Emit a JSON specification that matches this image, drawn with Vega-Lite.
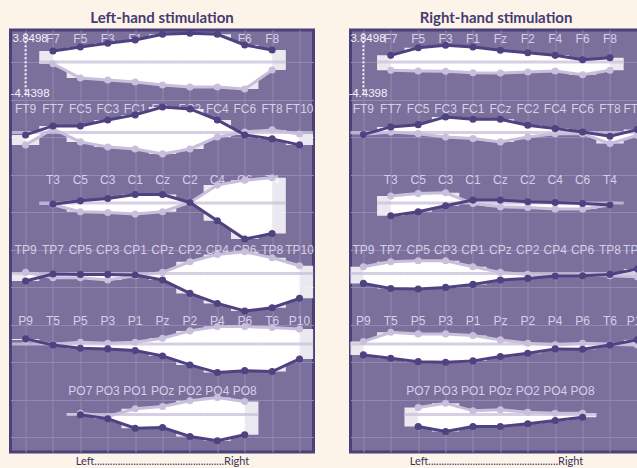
{
"$schema": "https://vega.github.io/schema/vega-lite/v6.json",
"background": "#fcf4e9",
"padding": {"left": 8.5, "top": 9, "right": 0, "bottom": 0},
"spacing": 31,
"datasets": {
"eeg": [
{"p":"L","e":"F7","row":0,"col":1,"a":1.47,"b":-0.23},
{"p":"L","e":"F5","row":0,"col":2,"a":2.0,"b":-2.13},
{"p":"L","e":"F3","row":0,"col":3,"a":2.5,"b":-2.4},
{"p":"L","e":"F1","row":0,"col":4,"a":2.93,"b":-2.67},
{"p":"L","e":"Fz","row":0,"col":5,"a":3.7,"b":-3.07},
{"p":"L","e":"F2","row":0,"col":6,"a":3.85,"b":-3.33},
{"p":"L","e":"F4","row":0,"col":7,"a":3.7,"b":-3.33},
{"p":"L","e":"F6","row":0,"col":8,"a":2.27,"b":-3.6},
{"p":"L","e":"F8","row":0,"col":9,"a":1.6,"b":-1.07},
{"p":"L","e":"FT9","row":1,"col":0,"a":-0.32,"b":-1.65},
{"p":"L","e":"FT7","row":1,"col":1,"a":0.88,"b":0.48},
{"p":"L","e":"FC5","row":1,"col":2,"a":0.88,"b":-1.25},
{"p":"L","e":"FC3","row":1,"col":3,"a":1.68,"b":-1.92},
{"p":"L","e":"FC1","row":1,"col":4,"a":2.35,"b":-2.19},
{"p":"L","e":"FCz","row":1,"col":5,"a":3.41,"b":-2.85},
{"p":"L","e":"FC2","row":1,"col":6,"a":3.15,"b":-2.19},
{"p":"L","e":"FC4","row":1,"col":7,"a":1.68,"b":-0.59},
{"p":"L","e":"FC6","row":1,"col":8,"a":-0.32,"b":0.08},
{"p":"L","e":"FT8","row":1,"col":9,"a":-0.85,"b":0.35},
{"p":"L","e":"FT10","row":1,"col":10,"a":-1.65,"b":-0.19},
{"p":"L","e":"T3","row":2,"col":1,"a":-0.15,"b":-0.24},
{"p":"L","e":"C5","row":2,"col":2,"a":0.29,"b":-1.17},
{"p":"L","e":"C3","row":2,"col":3,"a":0.6,"b":-1.27},
{"p":"L","e":"C1","row":2,"col":4,"a":1.13,"b":-1.48},
{"p":"L","e":"Cz","row":2,"col":5,"a":1.13,"b":-1.17},
{"p":"L","e":"C2","row":2,"col":6,"a":0.07,"b":0.07},
{"p":"L","e":"C4","row":2,"col":7,"a":-2.37,"b":2.39},
{"p":"L","e":"C6","row":2,"col":8,"a":-4.81,"b":3.05},
{"p":"L","e":"T4","row":2,"col":9,"a":-4.07,"b":3.36},
{"p":"L","e":"TP9","row":3,"col":0,"a":-1.0,"b":0.15},
{"p":"L","e":"TP7","row":3,"col":1,"a":-0.07,"b":-0.56},
{"p":"L","e":"CP5","row":3,"col":2,"a":-0.12,"b":-0.56},
{"p":"L","e":"CP3","row":3,"col":3,"a":-0.12,"b":-0.87},
{"p":"L","e":"CP1","row":3,"col":4,"a":-0.2,"b":-0.29},
{"p":"L","e":"CPz","row":3,"col":5,"a":-0.87,"b":0.15},
{"p":"L","e":"CP2","row":3,"col":6,"a":-2.65,"b":1.57},
{"p":"L","e":"CP4","row":3,"col":7,"a":-3.99,"b":2.55},
{"p":"L","e":"CP6","row":3,"col":8,"a":-5.0,"b":2.9},
{"p":"L","e":"TP8","row":3,"col":9,"a":-4.56,"b":2.1},
{"p":"L","e":"TP10","row":3,"col":10,"a":-3.31,"b":1.04},
{"p":"L","e":"P9","row":4,"col":0,"a":0.68,"b":0.55},
{"p":"L","e":"T5","row":4,"col":1,"a":-0.12,"b":-0.04},
{"p":"L","e":"P5","row":4,"col":2,"a":-0.57,"b":0.23},
{"p":"L","e":"P3","row":4,"col":3,"a":-0.65,"b":0.09},
{"p":"L","e":"P1","row":4,"col":4,"a":-0.88,"b":0.23},
{"p":"L","e":"Pz","row":4,"col":5,"a":-1.59,"b":0.76},
{"p":"L","e":"P2","row":4,"col":6,"a":-2.79,"b":1.75},
{"p":"L","e":"P4","row":4,"col":7,"a":-3.81,"b":2.32},
{"p":"L","e":"P6","row":4,"col":8,"a":-3.55,"b":2.32},
{"p":"L","e":"T6","row":4,"col":9,"a":-3.68,"b":2.19},
{"p":"L","e":"P10","row":4,"col":10,"a":-1.99,"b":2.01},
{"p":"L","e":"PO7","row":5,"col":2,"a":-0.04,"b":0.17},
{"p":"L","e":"PO3","row":5,"col":3,"a":-0.57,"b":-0.27},
{"p":"L","e":"PO1","row":5,"col":4,"a":-1.83,"b":0.76},
{"p":"L","e":"POz","row":5,"col":5,"a":-1.73,"b":1.07},
{"p":"L","e":"PO2","row":5,"col":6,"a":-2.93,"b":1.83},
{"p":"L","e":"PO4","row":5,"col":7,"a":-3.51,"b":2.27},
{"p":"L","e":"PO8","row":5,"col":8,"a":-2.71,"b":1.73},
{"p":"R","e":"F7","row":0,"col":1,"a":0.89,"b":-1.11},
{"p":"R","e":"F5","row":0,"col":2,"a":1.91,"b":-1.2},
{"p":"R","e":"F3","row":0,"col":3,"a":2.23,"b":-1.24},
{"p":"R","e":"F1","row":0,"col":4,"a":2.0,"b":-1.43},
{"p":"R","e":"Fz","row":0,"col":5,"a":1.56,"b":-1.47},
{"p":"R","e":"F2","row":0,"col":6,"a":1.24,"b":-1.33},
{"p":"R","e":"F4","row":0,"col":7,"a":0.89,"b":-1.2},
{"p":"R","e":"F6","row":0,"col":8,"a":0.31,"b":-1.69},
{"p":"R","e":"F8","row":0,"col":9,"a":0.57,"b":-1.11},
{"p":"R","e":"FT9","row":1,"col":0,"a":-0.28,"b":-0.23},
{"p":"R","e":"FT7","row":1,"col":1,"a":0.75,"b":0.08},
{"p":"R","e":"FC5","row":1,"col":2,"a":1.05,"b":-0.15},
{"p":"R","e":"FC3","row":1,"col":3,"a":2.08,"b":-0.59},
{"p":"R","e":"FC1","row":1,"col":4,"a":1.77,"b":-0.81},
{"p":"R","e":"FCz","row":1,"col":5,"a":1.77,"b":-1.25},
{"p":"R","e":"FC2","row":1,"col":6,"a":0.97,"b":-0.59},
{"p":"R","e":"FC4","row":1,"col":7,"a":0.52,"b":-0.15},
{"p":"R","e":"FC6","row":1,"col":8,"a":0.08,"b":-0.15},
{"p":"R","e":"FT8","row":1,"col":9,"a":-0.49,"b":-1.48},
{"p":"R","e":"FT10","row":1,"col":10,"a":0.39,"b":-0.36},
{"p":"R","e":"T3","row":2,"col":1,"a":-1.71,"b":0.92},
{"p":"R","e":"C5","row":2,"col":2,"a":-1.17,"b":1.27},
{"p":"R","e":"C3","row":2,"col":3,"a":-0.37,"b":1.36},
{"p":"R","e":"C1","row":2,"col":4,"a":0.39,"b":-0.07},
{"p":"R","e":"Cz","row":2,"col":5,"a":0.39,"b":-0.51},
{"p":"R","e":"C2","row":2,"col":6,"a":0.16,"b":-0.6},
{"p":"R","e":"C4","row":2,"col":7,"a":0.07,"b":-0.81},
{"p":"R","e":"C6","row":2,"col":8,"a":-0.07,"b":-0.81},
{"p":"R","e":"T4","row":2,"col":9,"a":-0.28,"b":-0.28},
{"p":"R","e":"TP9","row":3,"col":0,"a":-1.32,"b":0.91},
{"p":"R","e":"TP7","row":3,"col":1,"a":-1.99,"b":1.57},
{"p":"R","e":"CP5","row":3,"col":2,"a":-2.07,"b":1.71},
{"p":"R","e":"CP3","row":3,"col":3,"a":-1.85,"b":1.71},
{"p":"R","e":"CP1","row":3,"col":4,"a":-1.45,"b":0.91},
{"p":"R","e":"CPz","row":3,"col":5,"a":-0.87,"b":0.15},
{"p":"R","e":"CP2","row":3,"col":6,"a":-0.65,"b":-0.12},
{"p":"R","e":"CP4","row":3,"col":7,"a":-0.33,"b":-0.29},
{"p":"R","e":"CP6","row":3,"col":8,"a":-0.29,"b":-0.2},
{"p":"R","e":"TP8","row":3,"col":9,"a":-0.12,"b":-0.29},
{"p":"R","e":"TP10","row":3,"col":10,"a":0.6,"b":-0.43},
{"p":"R","e":"P9","row":4,"col":0,"a":-1.45,"b":0.32},
{"p":"R","e":"T5","row":4,"col":1,"a":-1.91,"b":1.56},
{"p":"R","e":"P5","row":4,"col":2,"a":-2.35,"b":1.35},
{"p":"R","e":"P3","row":4,"col":3,"a":-2.44,"b":1.35},
{"p":"R","e":"P1","row":4,"col":4,"a":-2.25,"b":1.12},
{"p":"R","e":"Pz","row":4,"col":5,"a":-1.68,"b":0.55},
{"p":"R","e":"P2","row":4,"col":6,"a":-1.24,"b":0.09},
{"p":"R","e":"P4","row":4,"col":7,"a":-0.65,"b":-0.12},
{"p":"R","e":"P6","row":4,"col":8,"a":-0.71,"b":0.09},
{"p":"R","e":"T6","row":4,"col":9,"a":-0.12,"b":-0.04},
{"p":"R","e":"P10","row":4,"col":10,"a":0.55,"b":-0.12},
{"p":"R","e":"PO7","row":5,"col":2,"a":-1.6,"b":0.93},
{"p":"R","e":"PO3","row":5,"col":3,"a":-2.27,"b":1.51},
{"p":"R","e":"PO1","row":5,"col":4,"a":-1.6,"b":0.49},
{"p":"R","e":"POz","row":5,"col":5,"a":-1.6,"b":0.63},
{"p":"R","e":"PO2","row":5,"col":6,"a":-1.24,"b":0.31},
{"p":"R","e":"PO4","row":5,"col":7,"a":-0.8,"b":0.17},
{"p":"R","e":"PO8","row":5,"col":8,"a":-0.36,"b":0.17}
],
"scale": [{"col":0,"hi":3.8498,"lo":-4.4398,"hiT":"3.8498","loT":"-4.4398"}]
},
"hconcat": [
{
"width": 303, "height": 422,
"title": {"text": "Left-hand stimulation"},
"layer": [
{
"data": {"name": "eeg"},
"transform": [
{"filter": "datum.p == 'L'"},
{"calculate": "datum.a - 9.4*datum.row", "as": "ya"},
{"calculate": "datum.b - 9.4*datum.row", "as": "yb"},
{"calculate": "-9.4*datum.row", "as": "y0"},
{"calculate": "3.07 - 9.4*datum.row", "as": "yt"},
{"calculate": "datum.col - 0.5", "as": "xl"},
{"calculate": "datum.col + 0.5", "as": "xr"}
],
"layer": [
{"mark": {"type": "text", "font": "Liberation Sans", "fontSize": 12, "color": "#d6d0e6", "clip": true},
 "encoding": {"x": {"field": "col", "type": "quantitative", "scale": {"domain": [-0.55, 10.51], "nice": false, "zero": false}, "title": "Left..................................................Right"},
  "y": {"field": "yt", "type": "quantitative", "scale": {"domain": [-52, 4.27], "nice": false, "zero": false}, "title": null},
  "text": {"field": "e"}}},
{"mark": {"type": "rect", "color": "#ffffff", "opacity": 0.85, "clip": true},
 "encoding": {"x": {"field": "xl", "type": "quantitative", "title": "Left..................................................Right"}, "x2": {"field": "xr"},
  "y": {"field": "ya", "type": "quantitative", "title": null}, "y2": {"field": "yb"}}},
{"mark": {"type": "area", "color": "#ffffff", "opacity": 1, "clip": true},
 "encoding": {"x": {"field": "col", "type": "quantitative", "title": "Left..................................................Right"},
  "y": {"field": "ya", "type": "quantitative", "title": null}, "y2": {"field": "yb"}, "detail": {"field": "row"}}},
{"mark": {"type": "rule", "color": "#cac3dc", "strokeWidth": 3, "opacity": 0.8, "clip": true},
 "encoding": {"x": {"field": "xl", "type": "quantitative", "title": "Left..................................................Right"}, "x2": {"field": "xr"},
  "y": {"field": "y0", "type": "quantitative", "title": null}}},
{"mark": {"type": "line", "color": "#c7bfdc", "strokeWidth": 3, "clip": true, "point": {"filled": true, "size": 50, "color": "#c7bfdc"}},
 "encoding": {"x": {"field": "col", "type": "quantitative", "title": "Left..................................................Right"},
  "y": {"field": "yb", "type": "quantitative", "title": null}, "detail": {"field": "row"}}},
{"mark": {"type": "line", "color": "#4f4281", "strokeWidth": 3, "clip": true, "point": {"filled": true, "size": 50, "color": "#4f4281"}},
 "encoding": {"x": {"field": "col", "type": "quantitative", "title": "Left..................................................Right"},
  "y": {"field": "ya", "type": "quantitative", "title": null}, "detail": {"field": "row"}}}
]
},
{
"data": {"name": "scale"},
"layer": [
{"mark": {"type": "rule", "color": "#f4f2fa", "strokeWidth": 2, "strokeDash": [2, 2]},
 "encoding": {"x": {"field": "col", "type": "quantitative", "title": "Left..................................................Right"},
  "y": {"field": "hi", "type": "quantitative", "title": null}, "y2": {"field": "lo"}}},
{"mark": {"type": "text", "align": "left", "baseline": "top", "dx": -13, "dy": 0, "color": "#f4f2fa", "font": "Liberation Sans", "fontSize": 11.5},
 "encoding": {"x": {"field": "col", "type": "quantitative", "title": "Left..................................................Right"},
  "y": {"field": "hi", "type": "quantitative", "title": null}, "text": {"field": "hiT"}}},
{"mark": {"type": "text", "align": "left", "baseline": "bottom", "dx": -15, "dy": 4, "color": "#f4f2fa", "font": "Liberation Sans", "fontSize": 11.5},
 "encoding": {"x": {"field": "col", "type": "quantitative", "title": "Left..................................................Right"},
  "y": {"field": "lo", "type": "quantitative", "title": null}, "text": {"field": "loT"}}}
]
}
]
},
{
"width": 291, "height": 422,
"title": {"text": "Right-hand stimulation"},
"layer": [
{
"data": {"name": "eeg"},
"transform": [
{"filter": "datum.p == 'R'"},
{"calculate": "datum.a - 9.4*datum.row", "as": "ya"},
{"calculate": "datum.b - 9.4*datum.row", "as": "yb"},
{"calculate": "-9.4*datum.row", "as": "y0"},
{"calculate": "3.07 - 9.4*datum.row", "as": "yt"},
{"calculate": "datum.col - 0.5", "as": "xl"},
{"calculate": "datum.col + 0.5", "as": "xr"}
],
"layer": [
{"mark": {"type": "text", "font": "Liberation Sans", "fontSize": 12, "color": "#d6d0e6", "clip": true},
 "encoding": {"x": {"field": "col", "type": "quantitative", "scale": {"domain": [-0.47, 10.15], "nice": false, "zero": false}, "title": "Left..................................................Right"},
  "y": {"field": "yt", "type": "quantitative", "scale": {"domain": [-52, 4.27], "nice": false, "zero": false}, "title": null},
  "text": {"field": "e"}}},
{"mark": {"type": "rect", "color": "#ffffff", "opacity": 0.85, "clip": true},
 "encoding": {"x": {"field": "xl", "type": "quantitative", "title": "Left..................................................Right"}, "x2": {"field": "xr"},
  "y": {"field": "ya", "type": "quantitative", "title": null}, "y2": {"field": "yb"}}},
{"mark": {"type": "area", "color": "#ffffff", "opacity": 1, "clip": true},
 "encoding": {"x": {"field": "col", "type": "quantitative", "title": "Left..................................................Right"},
  "y": {"field": "ya", "type": "quantitative", "title": null}, "y2": {"field": "yb"}, "detail": {"field": "row"}}},
{"mark": {"type": "rule", "color": "#cac3dc", "strokeWidth": 3, "opacity": 0.8, "clip": true},
 "encoding": {"x": {"field": "xl", "type": "quantitative", "title": "Left..................................................Right"}, "x2": {"field": "xr"},
  "y": {"field": "y0", "type": "quantitative", "title": null}}},
{"mark": {"type": "line", "color": "#c7bfdc", "strokeWidth": 3, "clip": true, "point": {"filled": true, "size": 50, "color": "#c7bfdc"}},
 "encoding": {"x": {"field": "col", "type": "quantitative", "title": "Left..................................................Right"},
  "y": {"field": "yb", "type": "quantitative", "title": null}, "detail": {"field": "row"}}},
{"mark": {"type": "line", "color": "#4f4281", "strokeWidth": 3, "clip": true, "point": {"filled": true, "size": 50, "color": "#4f4281"}},
 "encoding": {"x": {"field": "col", "type": "quantitative", "title": "Left..................................................Right"},
  "y": {"field": "ya", "type": "quantitative", "title": null}, "detail": {"field": "row"}}}
]
},
{
"data": {"name": "scale"},
"layer": [
{"mark": {"type": "rule", "color": "#f4f2fa", "strokeWidth": 2, "strokeDash": [2, 2]},
 "encoding": {"x": {"field": "col", "type": "quantitative", "title": "Left..................................................Right"},
  "y": {"field": "hi", "type": "quantitative", "title": null}, "y2": {"field": "lo"}}},
{"mark": {"type": "text", "align": "left", "baseline": "top", "dx": -13, "dy": 0, "color": "#f4f2fa", "font": "Liberation Sans", "fontSize": 11.5},
 "encoding": {"x": {"field": "col", "type": "quantitative", "title": "Left..................................................Right"},
  "y": {"field": "hi", "type": "quantitative", "title": null}, "text": {"field": "hiT"}}},
{"mark": {"type": "text", "align": "left", "baseline": "bottom", "dx": -15, "dy": 4, "color": "#f4f2fa", "font": "Liberation Sans", "fontSize": 11.5},
 "encoding": {"x": {"field": "col", "type": "quantitative", "title": "Left..................................................Right"},
  "y": {"field": "lo", "type": "quantitative", "title": null}, "text": {"field": "loT"}}}
]
}
]
}
],
"config": {
"view": {"fill": "#7b6f9c", "stroke": "#4b4079", "strokeWidth": 3},
"axisX": {"values": [0.5, 1.5, 2.5, 3.5, 4.5, 5.5, 6.5, 7.5, 8.5, 9.5], "grid": true, "gridColor": "#9189b1", "gridWidth": 1, "labels": false, "ticks": false, "domain": false, "titleFont": "Lato", "titleFontSize": 11, "titleFontWeight": "normal", "titleColor": "#3b325c", "titlePadding": 3},
"axisY": {"values": [-5.33, -14.73, -24.13, -33.53, -42.93], "grid": true, "gridColor": "#9189b1", "gridWidth": 1, "labels": false, "ticks": false, "domain": false},
"title": {"font": "Lato", "fontSize": 15, "fontWeight": "bold", "color": "#463b70", "anchor": "middle", "offset": 4}
}
}
